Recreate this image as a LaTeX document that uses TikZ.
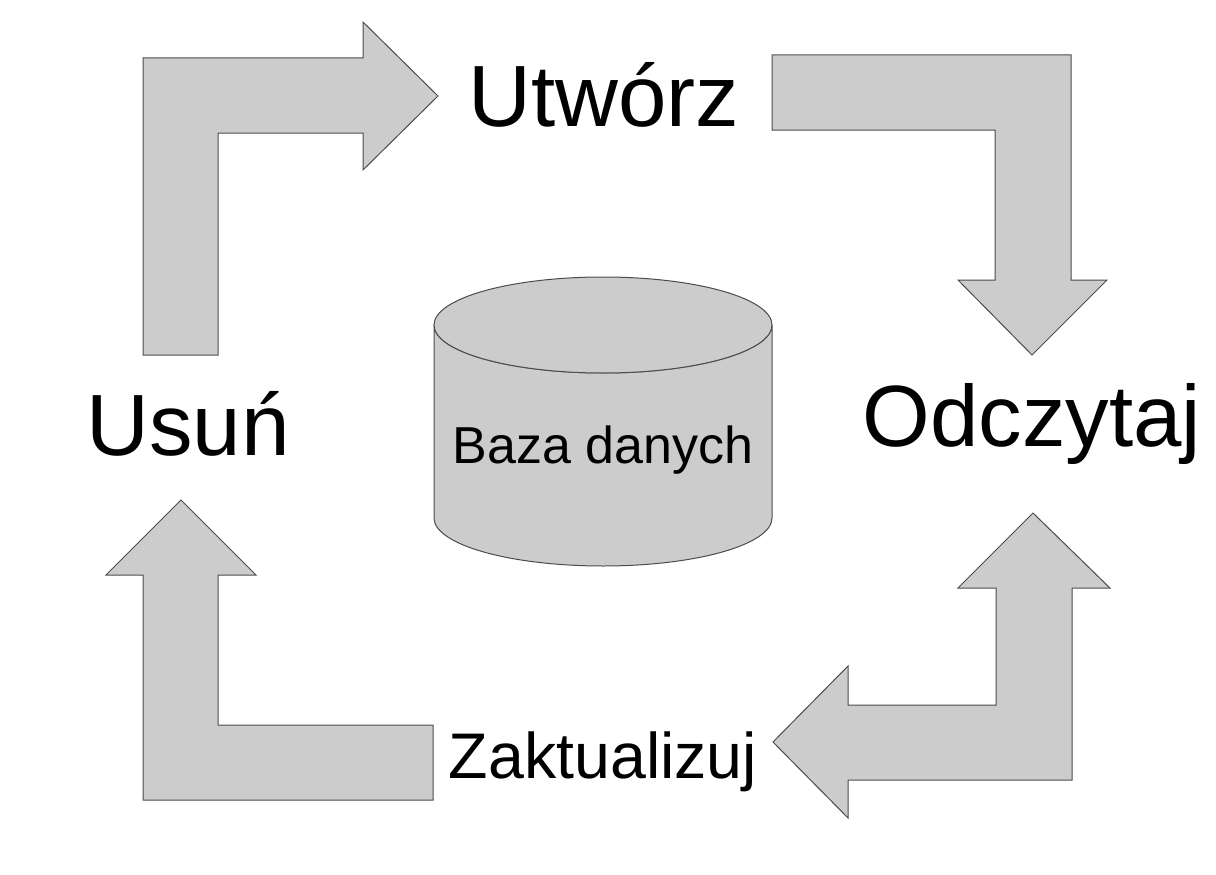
\documentclass[tikz,border=0pt]{standalone}
\usepackage{fontspec}
\setmainfont{Liberation Sans}
\begin{document}
\begin{tikzpicture}[x=1pt,y=-1pt,
  arr/.style={fill=black!20,draw=black!70,line width=1pt},
  big/.style={font=\fontsize{87}{92}\selectfont,inner sep=0pt},
  mid/.style={font=\fontsize{64.5}{70}\selectfont,inner sep=0pt}]
\useasboundingbox (0,0) rectangle (1216,875);
\fill[white] (0,0) rectangle (1216,875);
\draw[arr] (143,58)--(363,58)--(363,22)--(438,96)--(363,170)--(363,133)--(218,133)--(218,355)--(143,355)--cycle;
\draw[arr] (772,55)--(1071,55)--(1071,280)--(1107,280)--(1032,355)--(958,280)--(995,280)--(995,130)--(772,130)--cycle;
\draw[arr] (1033,513)--(1110,588)--(1072,588)--(1072,780)--(848,780)--(848,818)--(773,742)--(848,666)--(848,705)--(996,705)--(996,588)--(958,588)--cycle;
\draw[arr] (181,500)--(256,575)--(218,575)--(218,725)--(433,725)--(433,800)--(143,800)--(143,575)--(106,575)--cycle;
\draw[arr] (434,325)--(434,518) arc[start angle=180,end angle=0,x radius=169,y radius=48]--(772,325) arc[start angle=0,end angle=180,x radius=169,y radius=48]--cycle;
\draw[arr] (603,325) ellipse[x radius=169,y radius=48];
\node[font=\fontsize{52}{58}\selectfont] (db) at (603,450) {Baza danych};
\node[big] (u) at (604,95) {Utwórz};
\node[big] (o) at (1032,424) {Odczytaj};
\node[big] (s) at (188,424) {Usuń};
\node[mid] (z) at (603,762) {Zaktualizuj};
\end{tikzpicture}
\end{document}
